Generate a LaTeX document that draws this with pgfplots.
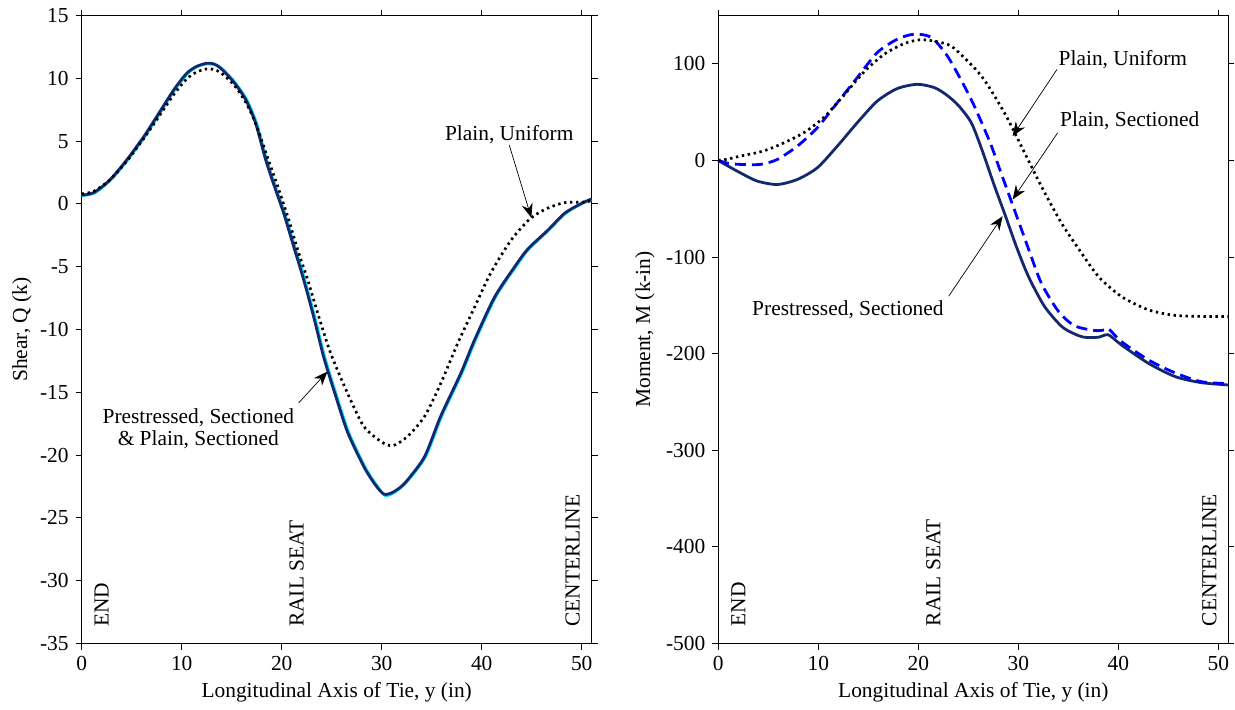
\documentclass[border=0pt]{standalone}
\usepackage{pgfplots}
\pgfplotsset{compat=1.18}
\usepackage{fontspec}
\setmainfont{Liberation Serif}
\usetikzlibrary{arrows.meta}
\definecolor{navy}{RGB}{20,40,110}
\definecolor{lcyan}{RGB}{0,220,255}
\definecolor{pblue}{RGB}{0,0,255}
\newcommand{\ff}{\fontsize{10.7}{12}\selectfont}
\tikzset{ann/.style={-{Stealth[length=7pt,width=5.5pt]}, black, line width=0.35pt}}
\pgfplotsset{
  tieaxis/.style={
    scale only axis, width=255pt, height=314pt,
    xmin=0, xmax=51, xtick={0,10,...,50},
    tick align=outside, major tick length=3pt,
    xtick pos=both, ytick pos=both,
    xticklabel pos=left, yticklabel pos=left,
    axis line style={black, line width=0.6pt},
    every tick/.style={black, line width=0.5pt},
    tick label style={font=\ff},
    /pgf/number format/assume math mode=true,
    label style={font=\ff},
    xlabel={Longitudinal Axis of Tie, y (in)},
    xlabel style={at={(axis description cs:0.5,-0.077)}, anchor=center},
    clip=false,
  },
  navyline/.style={navy, line width=1.4pt, smooth, tension=0.45},
  cyanline/.style={lcyan, line width=1.4pt, smooth, tension=0.45},
  dotline/.style={black, line width=1.35pt, dash pattern=on 1.2pt off 1.8pt, smooth, tension=0.45},
  dashline/.style={pblue, line width=1.4pt, dash pattern=on 5.5pt off 3pt, smooth, tension=0.45},
}
\pgfplotstableread{
x y
0 0.7
1.2 0.9
2.8 1.9
4.5 3.5
6.2 5.35
7.5 6.95
9.2 9.07
10.5 10.4
11.5 10.95
12.5 11.2
13.2 11.15
13.9 10.8
15.2 9.7
16.4 8.3
17.4 6.4
18.4 3.5
19.4 1.1
20.2 -0.74
21.2 -3.4
22.2 -6.05
23.2 -9.0
24.2 -12.2
25.4 -15.3
26.6 -18.2
28.2 -20.9
29.3 -22.3
30.2 -23.1
31.0 -23.0
31.8 -22.6
32.6 -21.96
34.3 -20.1
35.9 -16.9
37.9 -13.5
39.3 -10.8
41.3 -7.4
43.3 -5.0
44.6 -3.6
46.6 -2.1
48.3 -0.74
50 0.05
51 0.4
}\shearPS
\pgfplotstableread{
x y
0 0.65
1.3 0.88
2.9 1.9
4.6 3.5
6.3 5.35
7.6 6.95
9.3 9.07
10.6 10.4
11.6 10.95
12.6 11.15
13.3 11.1
14.0 10.8
15.3 9.7
16.5 8.3
17.5 6.4
18.5 3.5
19.5 1.1
20.3 -0.74
21.3 -3.4
22.3 -6.05
23.3 -9.0
24.3 -12.2
25.5 -15.3
26.7 -18.2
28.3 -20.9
29.4 -22.3
30.3 -23.2
31.1 -23.05
31.9 -22.6
32.7 -21.96
34.4 -20.1
36.0 -16.9
38.0 -13.5
39.4 -10.8
41.4 -7.4
43.4 -5.0
44.7 -3.6
46.7 -2.1
48.4 -0.74
50.1 0.05
51 0.35
}\shearPlS
\pgfplotstableread{
x y
0 0.8
1.2 1.0
2.8 1.9
4.5 3.4
6.2 5.2
7.5 6.7
9.2 8.7
10.5 9.95
11.5 10.5
12.5 10.75
13.2 10.7
13.9 10.45
15.2 9.5
16.4 8.1
17.4 6.4
18.55 3.77
19.6 1.4
20.6 -1.0
21.6 -3.66
22.6 -6.05
23.6 -8.7
24.9 -11.9
26.6 -15.1
28.2 -17.7
29.9 -18.9
31.1 -19.25
32.6 -18.5
34.3 -16.9
35.9 -14.3
37.6 -11.1
39.3 -8.2
40.9 -5.5
42.96 -2.86
44.9 -1.14
46.6 -0.34
48.3 0.1
50 0.13
51 0.25
}\shearPU
\pgfplotstableread{
x y
0 0
1 -6
2.2 -12.8
3.9 -21.4
5.9 -24.9
7.9 -19.7
9.9 -7.6
11.9 14.8
13.9 39.1
15.9 61.5
17.9 74.4
19.9 78.8
21.6 75.4
22.8 68
24.0 57
25.3 39
26.4 10
27.6 -26
28.7 -57
29.8 -89
31.0 -119.8
32.6 -150.8
34.3 -171.5
35.5 -179
36.6 -183
38 -183
39.0 -180.5
40.3 -190.9
43 -209.9
45.7 -223.8
48.3 -230
51 -232.4
}\momPS
\pgfplotstableread{
x y
0 0
1 -3
2.2 -4.1
4.2 -4.1
5.9 1
7.9 14.8
9.9 33.9
11.9 59.8
13.9 85.8
15.9 111.7
17.9 125.5
19.6 130.7
21.3 127.3
22.9 108.2
24.6 77
25.7 54
27.2 18
28.1 -8
29.5 -48
31 -91
32.3 -127
34 -156
35.6 -171
37.6 -176
38.6 -175.5
39 -174
40.3 -187.4
43 -206.4
45.7 -220
48.3 -229
51 -231
}\momPlS
\pgfplotstableread{
x y
0 0
1 1.5
2.2 4.5
4.5 9.7
6.6 18.4
8.6 29
10.6 45
12.6 68
14.6 92
16.6 110
18.6 121
20.3 125
22.3 122
23.6 116
26.3 87.5
28.6 49.5
30.3 14.8
32.3 -26.7
34.3 -64.6
36 -91
38 -120
40.3 -140.8
43 -154.6
45.7 -160.4
48.7 -161.5
51 -161.5
}\momPU
\begin{document}
\begin{tikzpicture}
\path[use as bounding box] (0,0) rectangle (617.5pt,354.5pt);
\begin{axis}[tieaxis, at={(40.85pt,32.75pt)}, anchor=south west,
  ymin=-35, ymax=15, ytick={-35,-30,...,15},
  ylabel={Shear, Q (k)},
  ylabel style={at={(axis description cs:-0.117,0.5)}, anchor=center}]
\addplot[cyanline] table[x=x,y=y] {\shearPlS};
\addplot[navyline] table[x=x,y=y] {\shearPS};
\addplot[dotline] table[x=x,y=y] {\shearPU};
\node[font=\ff] at (axis cs:42.75,5.5) {Plain, Uniform};
\draw[ann] (axis cs:42.75,4.7) -- (axis cs:44.96,-1.1);
\node[font=\ff, align=center, inner sep=0pt] at (axis cs:11.66,-17.9) {Prestressed, Sectioned\\[-1pt]\& Plain, Sectioned};
\draw[ann] (axis cs:21.7,-15.84) -- (axis cs:24.57,-13.35);
\node[font=\ff, rotate=90, anchor=west, inner sep=0pt] at (axis cs:2.0,-33.7) {END};
\node[font=\ff, rotate=90, anchor=west, inner sep=0pt] at (axis cs:21.5,-33.7) {RAIL SEAT};
\node[font=\ff, rotate=90, anchor=west, inner sep=0pt] at (axis cs:49.1,-33.7) {CENTERLINE};
\end{axis}
\begin{axis}[tieaxis, at={(359.15pt,32.75pt)}, anchor=south west,
  ymin=-500, ymax=150, ytick={-500,-400,...,100},
  ylabel={Moment, M (k-in)},
  ylabel style={at={(axis description cs:-0.1437,0.5)}, anchor=center}]
\addplot[navyline] table[x=x,y=y] {\momPS};
\addplot[dashline] table[x=x,y=y] {\momPlS};
\addplot[dotline] table[x=x,y=y] {\momPU};
\node[font=\ff] at (axis cs:40.46,104.6) {Plain, Uniform};
\draw[ann] (axis cs:33.87,94.2) -- (axis cs:29.43,25.2);
\node[font=\ff] at (axis cs:41.14,40.7) {Plain, Sectioned};
\draw[ann] (axis cs:33.94,28.7) -- (axis cs:29.43,-40.4);
\node[font=\ff] at (axis cs:12.96,-154.2) {Prestressed, Sectioned};
\draw[ann] (axis cs:23.04,-140.5) -- (axis cs:28.43,-57.7);
\node[font=\ff, rotate=90, anchor=west, inner sep=0pt] at (axis cs:2.0,-482.4) {END};
\node[font=\ff, rotate=90, anchor=west, inner sep=0pt] at (axis cs:21.5,-482.4) {RAIL SEAT};
\node[font=\ff, rotate=90, anchor=west, inner sep=0pt] at (axis cs:49.1,-482.4) {CENTERLINE};
\end{axis}
\end{tikzpicture}
\end{document}
